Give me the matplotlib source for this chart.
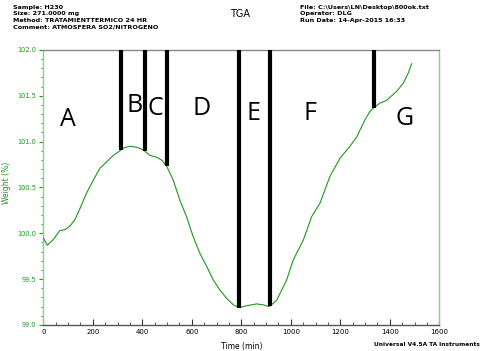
import numpy as np
import matplotlib
matplotlib.use("Agg")
import matplotlib.pyplot as plt
from matplotlib.ticker import MultipleLocator

# TGA weight curve (time in min, weight in %)
time_min = [0, 16, 40, 67, 88, 108, 128, 148, 175, 202, 229, 256, 283, 310, 323,
            350, 377, 404, 431, 458, 478, 499, 525, 552, 579, 606, 633, 660, 687,
            714, 741, 768, 792, 822, 862, 889, 913, 943, 983, 1010, 1051, 1084,
            1118, 1158, 1199, 1239, 1266, 1300, 1320, 1340, 1360, 1387, 1428,
            1455, 1475, 1488]
weight_pct = [99.95, 99.87, 99.93, 100.03, 100.04, 100.08, 100.15, 100.27, 100.44,
              100.58, 100.71, 100.78, 100.85, 100.90, 100.93, 100.95, 100.94,
              100.91, 100.85, 100.83, 100.80, 100.73, 100.58, 100.36, 100.18,
              99.96, 99.78, 99.64, 99.49, 99.38, 99.29, 99.22, 99.19, 99.21,
              99.23, 99.22, 99.20, 99.27, 99.49, 99.71, 99.93, 100.18, 100.33,
              100.62, 100.82, 100.95, 101.05, 101.24, 101.33, 101.38, 101.42,
              101.45, 101.55, 101.64, 101.75, 101.85]

# stage boundaries (min) and stage labels
boundaries = [313, 411, 499, 792, 916, 1336]
stage_labels = ["A", "B", "C", "D", "E", "F", "G"]
stage_x = [101, 368, 451, 640, 851, 1077, 1461]
stage_y = [101.24, 101.39, 101.36, 101.36, 101.31, 101.31, 101.25]

green = "#1f961f"
light_green = "#8ccf8c"

fig = plt.figure(figsize=(4.82, 3.51), dpi=100)
ax = fig.add_axes([0.0898, 0.0741, 0.8216, 0.7835])

ax.plot(time_min, weight_pct, color=green, lw=0.8, zorder=3)

for b in boundaries:
    y0 = np.interp(b, time_min, weight_pct)
    ax.vlines(b, y0, 102.0, color="black", lw=3.0, zorder=4)

for lab, x, y in zip(stage_labels, stage_x, stage_y):
    bbox = None
    if lab == "B":
        bbox = dict(facecolor="white", edgecolor="none", pad=0.0)
    ax.text(x, y, lab, fontsize=18, family="Open Sans", ha="center",
            va="center", color="black", zorder=5, bbox=bbox)

ax.set_xlim(0, 1600)
ax.set_ylim(99.0, 102.0)
ax.xaxis.set_major_locator(MultipleLocator(200))
ax.xaxis.set_minor_locator(MultipleLocator(50))
ax.yaxis.set_major_locator(MultipleLocator(0.5))
ax.yaxis.set_minor_locator(MultipleLocator(0.1))
ax.yaxis.set_major_formatter(matplotlib.ticker.FormatStrFormatter("%.1f"))

ax.tick_params(axis="x", which="both", direction="in", labelsize=5, pad=3,
               color="#333333")
ax.tick_params(axis="x", which="major", length=4)
ax.tick_params(axis="x", which="minor", length=2.5)
ax.tick_params(axis="y", which="both", direction="out", labelsize=4.8,
               labelcolor=green, color=green, pad=2)
ax.tick_params(axis="y", which="major", length=3)
ax.tick_params(axis="y", which="minor", length=1.5)

ax.spines["left"].set_color(light_green)
ax.spines["right"].set_color(light_green)
ax.spines["top"].set_color("#888888")
ax.spines["bottom"].set_color("#555555")
for s in ax.spines.values():
    s.set_linewidth(1.0)

ax.set_ylabel("Weight (%)", color=green, fontsize=5.5)
ax.yaxis.set_label_coords(-0.082, 0.516)
ax.set_xlabel("Time (min)", fontsize=5.5, labelpad=5)

# header block
hdr_kw = dict(fontsize=4.6, color="black", ha="left", va="center",
              fontweight="bold")
left_hdr = ["Sample: H230", "Size: 271.0000 mg",
            "Method: TRATAMIENTTERMICO 24 HR",
            "Comment: ATMOSFERA SO2/NITROGENO"]
for i, t in enumerate(left_hdr):
    fig.text(13 / 482, 1 - (7 + i * 6.6) / 351, t, **hdr_kw)
right_hdr = ["File: C:\\Users\\LN\\Desktop\\800ok.txt", "Operator: DLG",
             "Run Date: 14-Apr-2015 16:33"]
for i, t in enumerate(right_hdr):
    fig.text(300 / 482, 1 - (7 + i * 6.6) / 351, t, **hdr_kw)
fig.text(240 / 482, 1 - 14 / 351, "TGA", fontsize=7, ha="center", va="center")
fig.text(480 / 482, 1 - 345 / 351, "Universal V4.5A TA Instruments",
         fontsize=4.2, ha="right", va="center", fontweight="bold")

fig.savefig("out.png", dpi=100)
